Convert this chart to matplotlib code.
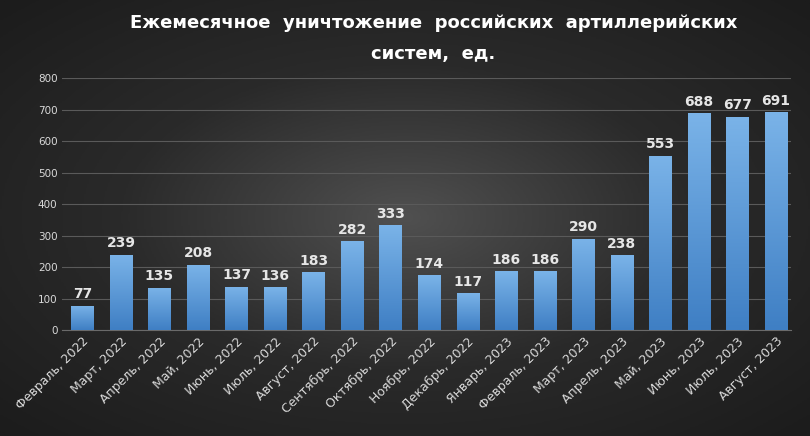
import numpy as np
import matplotlib.pyplot as plt
from matplotlib.colors import LinearSegmentedColormap

months = ["Февраль, 2022", "Март, 2022", "Апрель, 2022", "Май, 2022", "Июнь, 2022",
          "Июль, 2022", "Август, 2022", "Сентябрь, 2022", "Октябрь, 2022", "Ноябрь, 2022",
          "Декабрь, 2022", "Январь, 2023", "Февраль, 2023", "Март, 2023", "Апрель, 2023",
          "Май, 2023", "Июнь, 2023", "Июль, 2023", "Август, 2023"]
values = [77, 239, 135, 208, 137, 136, 183, 282, 333, 174, 117, 186, 186, 290, 238,
          553, 688, 677, 691]

fig = plt.figure(figsize=(8.1, 4.36), dpi=100)

# radial background
bg = fig.add_axes([0, 0, 1, 1])
yy, xx = np.mgrid[-1:1:300j, -1:1:500j]
r = np.sqrt(xx**2 + yy**2)
bg_cmap = LinearSegmentedColormap.from_list("bg", ["#505050", "#2a2a2a", "#1c1c1c"])
bg.imshow(r, cmap=bg_cmap, aspect="auto", extent=[0, 1, 0, 1], vmin=0, vmax=1.4)
bg.axis("off")

ax = fig.add_axes([0.077, 0.243, 0.9, 0.578])
ax.patch.set_alpha(0)
x = np.arange(len(values))
bars = ax.bar(x, values, width=0.58, color="#5b9bd5", zorder=3)

bar_cmap = LinearSegmentedColormap.from_list("bar", ["#3f7fc4", "#7ab3e8"])
grad = np.linspace(0, 1, 100).reshape(-1, 1)
for b in bars:
    x0, w, h = b.get_x(), b.get_width(), b.get_height()
    im = ax.imshow(grad, cmap=bar_cmap, aspect="auto", origin="lower",
                   extent=[x0, x0 + w, 0, h], zorder=4)
    im.set_clip_path(b)

for xi, v in zip(x, values):
    ax.text(xi, v + 14, str(v), ha="center", va="bottom", color="#e6e6e6",
            fontsize=10, fontweight="bold", zorder=5)

ax.set_xlim(-0.52, len(values) - 0.6)
ax.set_ylim(0, 800)
ax.set_yticks(range(0, 801, 100))
ax.grid(axis="y", color="#5a5a5a", linewidth=0.8, zorder=0)
for s in ax.spines.values():
    s.set_visible(False)
ax.spines["bottom"].set_visible(True)
ax.spines["bottom"].set_color("#6a6a6a")
ax.tick_params(axis="y", colors="#d9d9d9", labelsize=7.5, length=0)
ax.tick_params(axis="x", colors="#d9d9d9", labelsize=9, length=0)
ax.set_xticks(x)
ax.set_xticklabels(months, rotation=45, ha="right", rotation_mode="anchor")

fig.text(0.535, 0.935, "Ежемесячное  уничтожение  российских  артиллерийских",
         ha="center", color="white", fontsize=13, fontweight="bold")
fig.text(0.535, 0.865, "систем,  ед.", ha="center", color="white",
         fontsize=13, fontweight="bold")

fig.savefig("out.png", dpi=100)
